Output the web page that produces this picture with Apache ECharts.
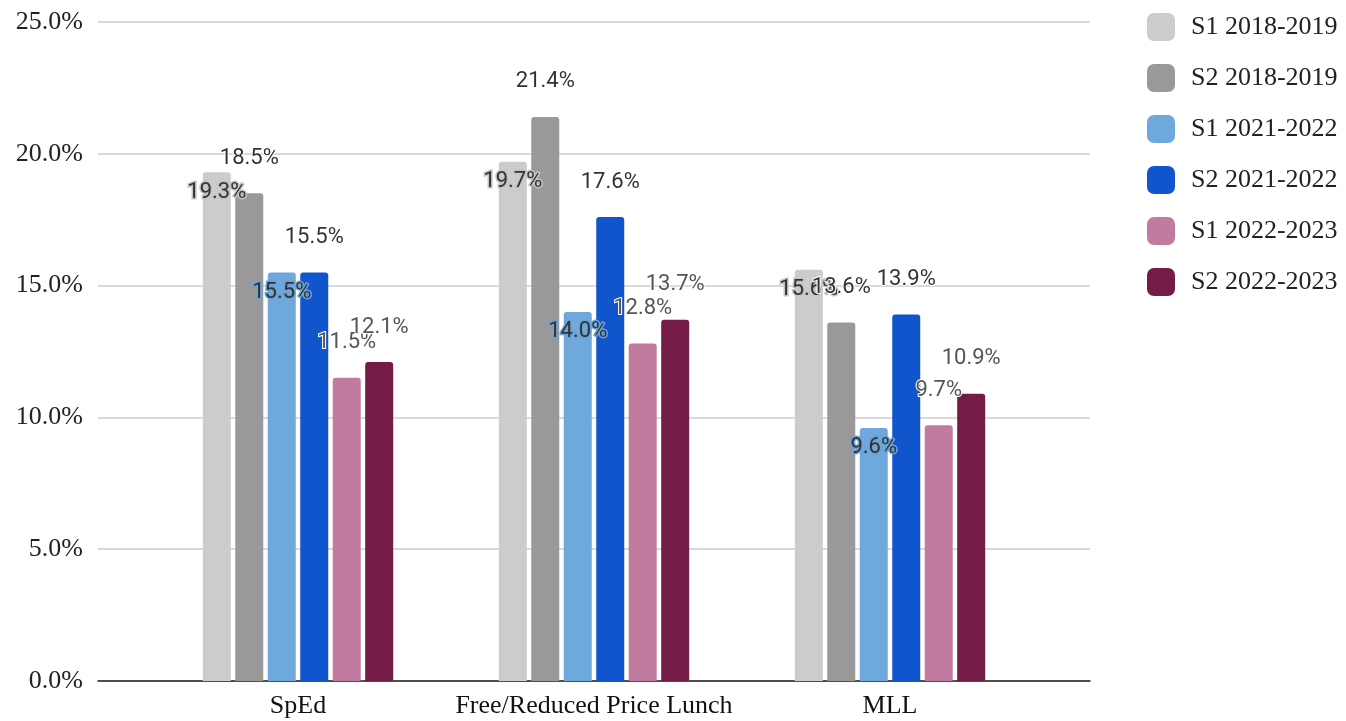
<!DOCTYPE html>
<html>
<head>
<meta charset="utf-8">
<script src="https://cdn.jsdelivr.net/npm/echarts@6/dist/echarts.min.js"></script>
<style>
  html, body { margin: 0; padding: 0; background: #fff; }
  #main { width: 1346px; height: 721px; }
</style>
</head>
<body>
<div id="main"></div>
<script>
const categories = ['SpEd', 'Free/Reduced Price Lunch', 'MLL'];
const seriesNames = ['S1 2018-2019', 'S2 2018-2019', 'S1 2021-2022', 'S2 2021-2022', 'S1 2022-2023', 'S2 2022-2023'];
const s1_1819 = [19.3, 19.7, 15.6];
const s2_1819 = [18.5, 21.4, 13.6];
const s1_2122 = [15.5, 14.0, 9.6];
const s2_2122 = [15.5, 17.6, 13.9];
const s1_2223 = [11.5, 12.8, 9.7];
const s2_2223 = [12.1, 13.7, 10.9];
const yTicks = [0, 5, 10, 15, 20, 25];

const colors = ['#cccccc', '#999999', '#6fa8dc', '#1155cc', '#c27ba0', '#741b47'];
const allData = [s1_1819, s2_1819, s1_2122, s2_2122, s1_2223, s2_2223];

// label look per series (google sheets puts some inside with a halo)
const labelStyles = [
  { position: 'insideTop', distance: 9, color: '#333', textBorderColor: '#c4c4c4', textBorderWidth: 3 },
  { position: 'top', distance: 24, color: '#333', textBorderColor: '#fff', textBorderWidth: 2 },
  { position: 'insideTop', distance: 9, color: '#333', textBorderColor: '#6ba2d6', textBorderWidth: 3 },
  { position: 'top', distance: 24, color: '#333', textBorderColor: '#fff', textBorderWidth: 2 },
  { position: 'top', distance: 24, color: '#555', textBorderColor: '#fff', textBorderWidth: 2 },
  { position: 'top', distance: 24, color: '#555', textBorderColor: '#fff', textBorderWidth: 2 }
];

const serif = 'Liberation Serif';
const chart = echarts.init(document.getElementById('main'));

const series = seriesNames.map(function (name, i) {
  return {
    name: name,
    type: 'bar',
    xAxisIndex: 1,
    yAxisIndex: 1,
    barWidth: 28,
    barGap: '16%',
    data: allData[i],
    itemStyle: { color: colors[i], borderRadius: [3, 3, 0, 0] },
    label: Object.assign({
      show: true,
      fontFamily: 'Roboto',
      fontSize: 22,
      formatter: function (p) { return p.value.toFixed(1) + '%'; }
    }, labelStyles[i])
  };
});

chart.setOption({
  animation: false,
  color: colors,
  legend: {
    orient: 'vertical',
    left: 1142,
    top: 8,
    itemWidth: 28,
    itemHeight: 28,
    itemGap: 23,
    icon: 'roundRect',
    data: seriesNames,
    textStyle: {
      fontFamily: serif,
      fontSize: 26,
      color: '#222',
      padding: [0, 0, 0, 11]
    }
  },
  grid: [
    { left: 98, right: 256, top: 22, bottom: 40 },
    { left: 150, right: 308, top: 22, bottom: 40 }
  ],
  xAxis: [
    {
      gridIndex: 0,
      type: 'category',
      data: [''],
      axisTick: { show: false },
      axisLabel: { show: false },
      axisLine: { lineStyle: { color: '#222', width: 1.5 } }
    },
    {
      gridIndex: 1,
      type: 'category',
      data: categories,
      axisTick: { show: false },
      axisLine: { show: false },
      axisLabel: {
        interval: 0,
        margin: 12,
        fontFamily: serif,
        fontSize: 26,
        color: '#111'
      }
    }
  ],
  yAxis: [
    {
      gridIndex: 0,
      type: 'value',
      min: yTicks[0],
      max: yTicks[yTicks.length - 1],
      interval: 5,
      axisLine: { show: false },
      axisTick: { show: false },
      splitLine: { lineStyle: { color: '#cccccc', width: 1.5 } },
      axisLabel: {
        margin: 15,
        fontFamily: serif,
        fontSize: 26,
        color: '#222',
        formatter: function (v) { return v.toFixed(1) + '%'; }
      }
    },
    {
      gridIndex: 1,
      type: 'value',
      min: yTicks[0],
      max: yTicks[yTicks.length - 1],
      interval: 5,
      show: false,
      splitLine: { show: false }
    }
  ],
  series: series
});
</script>
</body>
</html>
